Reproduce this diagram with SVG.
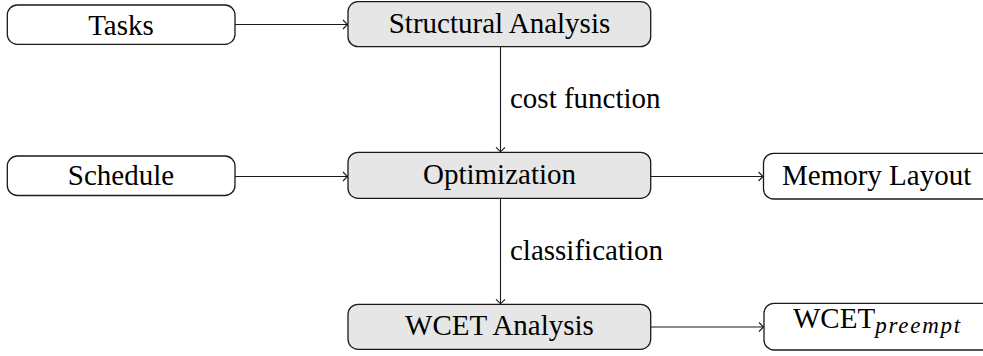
<svg xmlns="http://www.w3.org/2000/svg" width="983" height="356" viewBox="0 0 983 356">
  <defs>
    <style>
      .box { fill: #ffffff; stroke: #1a1a1a; stroke-width: 1.3; }
      .gray { fill: #e6e6e6; stroke: #1a1a1a; stroke-width: 1.3; }
      .lbl { font-size: 29px; fill: #000; }
      .sub { font-style: italic; font-size: 23px; fill: #000; }
      .edge { fill: none; stroke: #1a1a1a; stroke-width: 1.1; marker-end: url(#tip); }
    </style>
    <marker id="tip" viewBox="-6 -6 8 12" refX="0" refY="0" markerWidth="8" markerHeight="12" markerUnits="userSpaceOnUse" orient="auto">
      <path d="M -4.5 -4.5 Q -1.2 -1.2 0 0 Q -1.2 1.2 -4.5 4.5" fill="none" stroke="#1a1a1a" stroke-width="1.1"/>
    </marker>
  </defs>

  <g id="connectors" font-family="Liberation Serif, DejaVu Serif, Times New Roman, serif">
    <path class="edge" d="M 235 24.5 L 347.5 24.5"/>
    <path class="edge" d="M 235 176.5 L 347.5 176.5"/>
    <path class="edge" d="M 651 176.5 L 763 176.5"/>
    <path class="edge" d="M 651 327 L 763.5 327"/>
    <path class="edge" d="M 500.5 46.7 L 500.5 151.8"/>
    <path class="edge" d="M 500.5 198.3 L 500.5 303.8"/>
    <text class="lbl" x="510" y="108.3">cost function</text>
    <text class="lbl" x="510" y="260">classification</text>
  </g>

  <g id="tasks" font-family="Liberation Serif, DejaVu Serif, Times New Roman, serif">
    <rect class="box" x="7.3" y="5" width="227.7" height="39.3" rx="10" ry="10"/>
    <text class="lbl" x="121" y="35" text-anchor="middle">Tasks</text>
  </g>

  <g id="structural-analysis" font-family="Liberation Serif, DejaVu Serif, Times New Roman, serif">
    <rect class="gray" x="348" y="1.7" width="302.7" height="45" rx="10" ry="10"/>
    <text class="lbl" x="499.5" y="32.5" text-anchor="middle">Structural Analysis</text>
  </g>

  <g id="schedule" font-family="Liberation Serif, DejaVu Serif, Times New Roman, serif">
    <rect class="box" x="7.3" y="156" width="227.7" height="39.5" rx="10" ry="10"/>
    <text class="lbl" x="121" y="185" text-anchor="middle">Schedule</text>
  </g>

  <g id="optimization" font-family="Liberation Serif, DejaVu Serif, Times New Roman, serif">
    <rect class="gray" x="348" y="152.3" width="302.7" height="46" rx="10" ry="10"/>
    <text class="lbl" x="499.5" y="183.5" text-anchor="middle">Optimization</text>
  </g>

  <g id="memory-layout" font-family="Liberation Serif, DejaVu Serif, Times New Roman, serif">
    <rect class="box" x="763.5" y="153.3" width="240" height="45.7" rx="10" ry="10"/>
    <text class="lbl" x="782" y="184.5">Memory Layout</text>
  </g>

  <g id="wcet-analysis" font-family="Liberation Serif, DejaVu Serif, Times New Roman, serif">
    <rect class="gray" x="348" y="304.3" width="302.7" height="45" rx="10" ry="10"/>
    <text class="lbl" x="499.5" y="335" text-anchor="middle">WCET Analysis</text>
  </g>

  <g id="wcet-preempt" font-family="Liberation Serif, DejaVu Serif, Times New Roman, serif">
    <rect class="box" x="764" y="303.3" width="240" height="46.7" rx="10" ry="10"/>
    <text class="lbl" x="793" y="328.3">WCET<tspan class="sub" dy="5" textLength="85">preempt</tspan></text>
  </g>
</svg>
